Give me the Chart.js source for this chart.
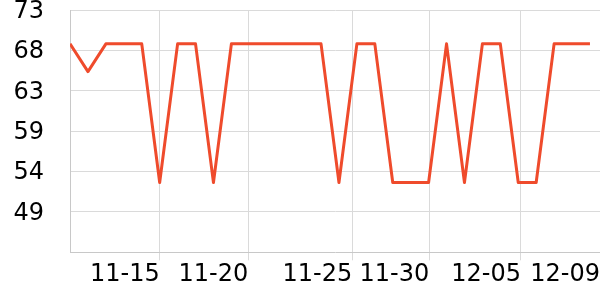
<!DOCTYPE html>
<html>
<head>
<meta charset="utf-8">
<script src="https://cdn.jsdelivr.net/npm/chart.js@4/dist/chart.umd.min.js"></script>
<style>
  html, body { margin: 0; padding: 0; background: #fff; }
</style>
</head>
<body>
<canvas id="myChart" width="600" height="300"></canvas>
<script>
// one value per day, 11-10 .. 12-09
var values = [
  69.0, 65.7, 69.0, 69.0, 69.0, 52.5, 69.0, 69.0, 52.5, 69.0,
  69.0, 69.0, 69.0, 69.0, 69.0, 52.5, 69.0, 69.0, 52.5, 52.5,
  52.5, 69.0, 52.5, 69.0, 69.0, 52.5, 52.5, 69.0, 69.0, 69.0
];

// x tick positions (in point index units) and their labels
var xTickPositions = [5, 9.94, 15.74, 20.04, 25.15, 29.56];
var xTickLabels = ["11-15", "11-20", "11-25", "11-30", "12-05", "12-09"];
var xMax = 29.56;

// y ticks
var yTickValues = [49.0, 53.8, 58.6, 63.4, 68.2, 73.0];
var yMin = 44.2;
var yMax = 73.0;

var points = values.map(function (v, i) {
  return { x: i, y: v };
});

var gridColor = "#dadada";
var borderColor = "#c8c8c8";

var ctx = document.getElementById("myChart").getContext("2d");
var myChart = new Chart(ctx, {
  type: "line",
  data: {
    datasets: [
      {
        data: points,
        borderColor: "#ef4b2c",
        borderWidth: 3,
        borderJoinStyle: "round",
        pointRadius: 0,
        tension: 0,
        fill: false,
      },
    ],
  },
  options: {
    responsive: false,
    animation: false,
    layout: {
      padding: { left: 10.5, top: 0, right: 0, bottom: 10.9 },
    },
    plugins: {
      legend: { display: false },
      tooltip: { enabled: false },
    },
    scales: {
      x: {
        type: "linear",
        min: 0,
        max: xMax,
        bounds: "data",
        afterBuildTicks: function (scale) {
          scale.ticks = xTickPositions.map(function (v) {
            return { value: v };
          });
        },
        grid: { color: gridColor, tickLength: 8 },
        border: { color: borderColor },
        ticks: {
          autoSkip: false,
          maxRotation: 0,
          align: "end",
          padding: 0,
          color: "#000",
          font: { family: "DejaVu Sans", size: 24 },
          callback: function (value, index) {
            return xTickLabels[index];
          },
        },
      },
      y: {
        min: yMin,
        max: yMax,
        bounds: "data",
        afterBuildTicks: function (scale) {
          scale.ticks = yTickValues.map(function (v) {
            return { value: v };
          });
        },
        grid: { color: gridColor, tickLength: 23, tickColor: "rgba(0,0,0,0)" },
        border: { color: borderColor },
        ticks: {
          padding: 3,
          labelOffset: 1.5,
          color: "#000",
          font: { family: "DejaVu Sans", size: 24, lineHeight: 0.6 },
          callback: function (value) {
            return Math.round(value);
          },
        },
      },
    },
  },
});
</script>
</body>
</html>
